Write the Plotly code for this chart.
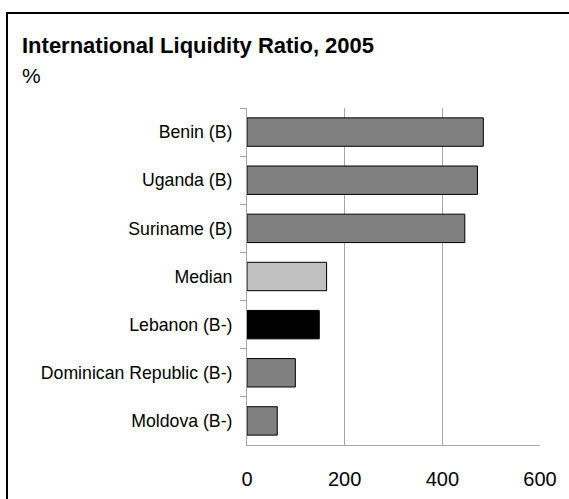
import plotly.graph_objects as go

# International liquidity ratio (%), 2005
countries = [
    "Benin (B)",
    "Uganda (B)",
    "Suriname (B)",
    "Median",
    "Lebanon (B-)",
    "Dominican Republic (B-)",
    "Moldova (B-)",
]
ratios = [484, 472, 446, 163, 148, 99, 62]
bar_colors = ["#808080", "#808080", "#808080", "#c0c0c0", "#000000", "#808080", "#808080"]

x_ticks = [0, 200, 400, 600]

W, H = 569, 499
ML, MR, MT, MB = 247, 29, 108, 54
PW = W - ML - MR
PH = H - MT - MB


def px_x(p):
    return (p - ML) / PW


def px_y(p):
    return 1 - (p - MT) / PH


FONT = "Liberation Sans, Arial, sans-serif"

fig = go.Figure(
    go.Bar(
        x=ratios,
        y=countries,
        orientation="h",
        marker=dict(color=bar_colors, line=dict(color="#000000", width=1)),
        width=0.59,
        hoverinfo="x+y",
    )
)

fig.update_layout(
    width=W,
    height=H,
    margin=dict(l=ML, r=MR, t=MT, b=MB, autoexpand=False),
    paper_bgcolor="white",
    plot_bgcolor="white",
    font=dict(family=FONT, color="#000000"),
    showlegend=False,
    annotations=[
        dict(
            text="<b>International Liquidity Ratio, 2005</b>",
            xref="paper", yref="paper",
            x=px_x(20), y=px_y(45),
            xanchor="left", yanchor="middle",
            showarrow=False,
            font=dict(size=22, family=FONT),
        ),
        dict(
            text="%",
            xref="paper", yref="paper",
            x=px_x(20), y=px_y(75),
            xanchor="left", yanchor="middle",
            showarrow=False,
            font=dict(size=21, family=FONT),
        ),
    ],
    shapes=[
        # frame around the chart (top and left edges)
        dict(type="line", xref="paper", yref="paper",
             x0=px_x(6), x1=px_x(W + 5), y0=px_y(13), y1=px_y(13),
             line=dict(color="#000000", width=2)),
        dict(type="line", xref="paper", yref="paper",
             x0=px_x(7), x1=px_x(7), y0=px_y(12), y1=px_y(H + 5),
             line=dict(color="#000000", width=2)),
    ],
)

fig.update_xaxes(
    range=[0, 600],
    tickvals=x_ticks,
    ticktext=[str(v) for v in x_ticks],
    showgrid=True,
    gridcolor="#a6a6a6",
    gridwidth=1,
    zeroline=False,
    showline=True,
    linecolor="#a6a6a6",
    linewidth=1,
    ticks="",
    ticklabelstandoff=16,
    tickfont=dict(size=20, family=FONT),
    mirror=False,
    automargin=False,
)

fig.update_yaxes(
    categoryorder="array",
    categoryarray=countries,
    autorange="reversed",
    showline=True,
    linecolor="#a6a6a6",
    linewidth=1,
    ticks="outside",
    tickson="boundaries",
    ticklen=6,
    tickcolor="#a6a6a6",
    ticklabelstandoff=10,
    tickfont=dict(size=17.7, family=FONT),
    showgrid=False,
    zeroline=False,
    automargin=False,
)

fig.write_html("out.html")
